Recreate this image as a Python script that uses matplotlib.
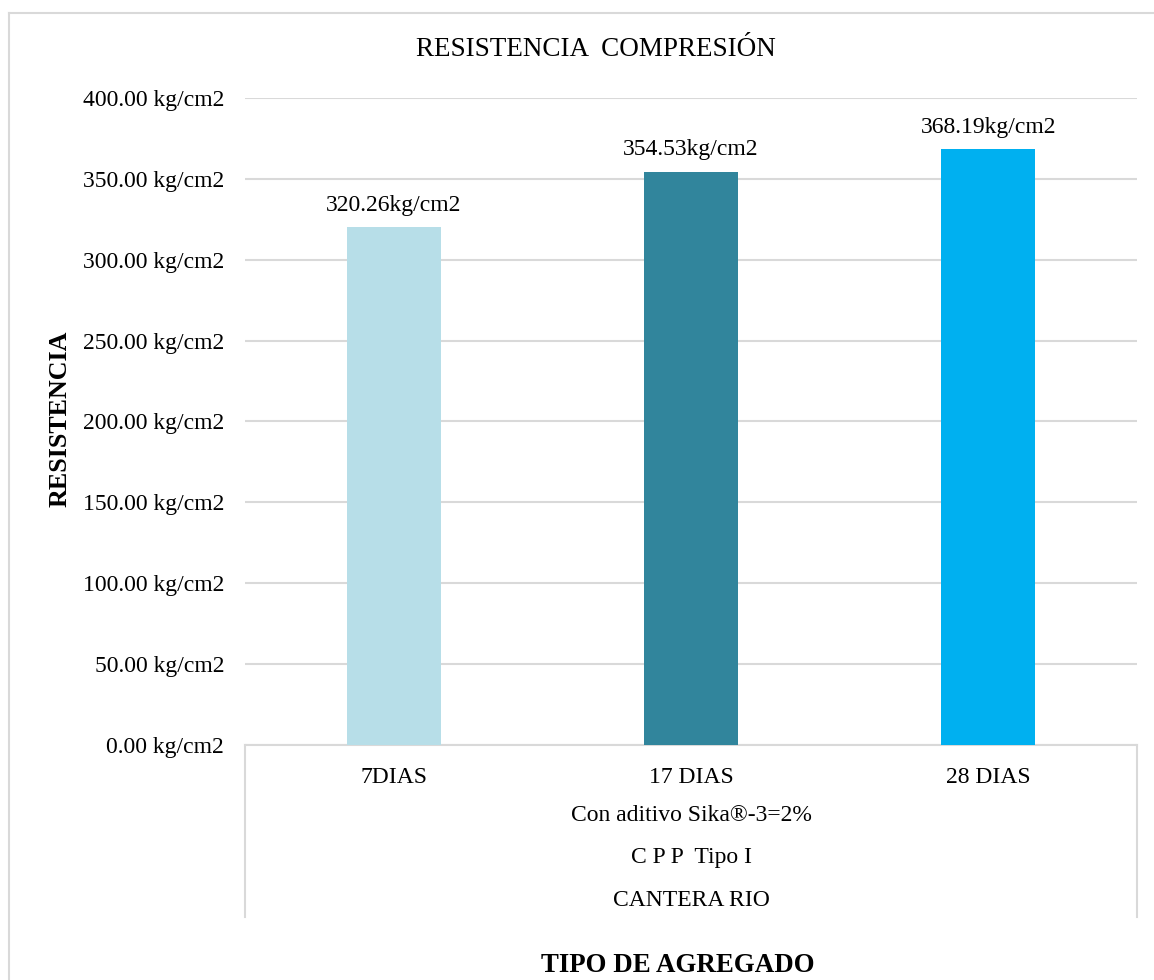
import matplotlib
matplotlib.use("Agg")
import matplotlib.pyplot as plt
from matplotlib.lines import Line2D
from matplotlib.ticker import FuncFormatter, MultipleLocator

categories = ["7DIAS", "17 DIAS", "28 DIAS"]
values = [320.26, 354.53, 368.19]
value_labels = ["320.26kg/cm2", "354.53kg/cm2", "368.19kg/cm2"]
bar_colors = ["#B7DEE8", "#31859C", "#00B0F0"]
group_labels = ["Con aditivo Sika®-3=2%", "C P P  Tipo I", "CANTERA RIO"]
title = "RESISTENCIA  COMPRESIÓN"
ylabel = "RESISTENCIA"
xlabel = "TIPO DE AGREGADO"

plt.rcParams['font.family'] = ['Liberation Serif', 'DejaVu Serif']
W, H = 1154, 980
fig = plt.figure(figsize=(W / 100, H / 100), dpi=100)
L, R, T, B = 245, 1137, 98, 745
ax = fig.add_axes([L / W, 1 - B / H, (R - L) / W, (B - T) / H])

x = list(range(len(categories)))
ax.bar(x, values, width=0.316, color=bar_colors, zorder=3)
ax.set_xlim(-0.5, len(categories) - 0.5)
ax.set_ylim(0, 400)
ax.yaxis.set_major_locator(MultipleLocator(50))
ax.yaxis.set_major_formatter(FuncFormatter(lambda v, p: f"{v:.2f} kg/cm2"))
ax.grid(axis='y', color='#D9D9D9', linewidth=1.5, zorder=0)
for s in ['top', 'right', 'left']:
    ax.spines[s].set_visible(False)
ax.spines['bottom'].set_color('#D9D9D9')
ax.spines['bottom'].set_linewidth(1.5)
ax.tick_params(axis='y', length=0, pad=15, labelsize=17)
ax.tick_params(axis='x', length=0, pad=16, labelsize=17)
ax.set_xticks(x)
ax.set_xticklabels(categories)

for xi, v, lab in zip(x, values, value_labels):
    ax.annotate(lab, (xi, v), xytext=(0, 8), textcoords='offset points',
                ha='center', va='bottom', fontsize=17)

# multi-level axis separators
depth = (917 - B) / (B - T)
for xa in [0, 1]:
    ax.add_line(Line2D([xa, xa], [0, -depth], transform=ax.transAxes,
                       color='#D9D9D9', linewidth=1.5, clip_on=False))

cx = ((L + R) / 2) / W
for lab, yp in zip(group_labels, [815, 857, 900]):
    fig.text(cx, 1 - yp / H, lab, ha='center', va='center', fontsize=17)

fig.text(596 / W, 1 - 50 / H, title, ha='center', va='center', fontsize=19.5)
fig.text(60 / W, 1 - 419 / H, ylabel, ha='center', va='center', rotation=90,
         fontsize=18.7, fontweight='bold')
fig.text(678 / W, 1 - 965 / H, xlabel, ha='center', va='center',
         fontsize=19.4, fontweight='bold')

# outer chart border
fig.add_artist(Line2D([8.5 / W, 8.5 / W], [0, 1 - 13.5 / H], transform=fig.transFigure,
                      color='#D9D9D9', linewidth=1.5))
fig.add_artist(Line2D([8.5 / W, 1], [1 - 13.5 / H, 1 - 13.5 / H], transform=fig.transFigure,
                      color='#D9D9D9', linewidth=1.5))

fig.savefig("out.png", dpi=100)
